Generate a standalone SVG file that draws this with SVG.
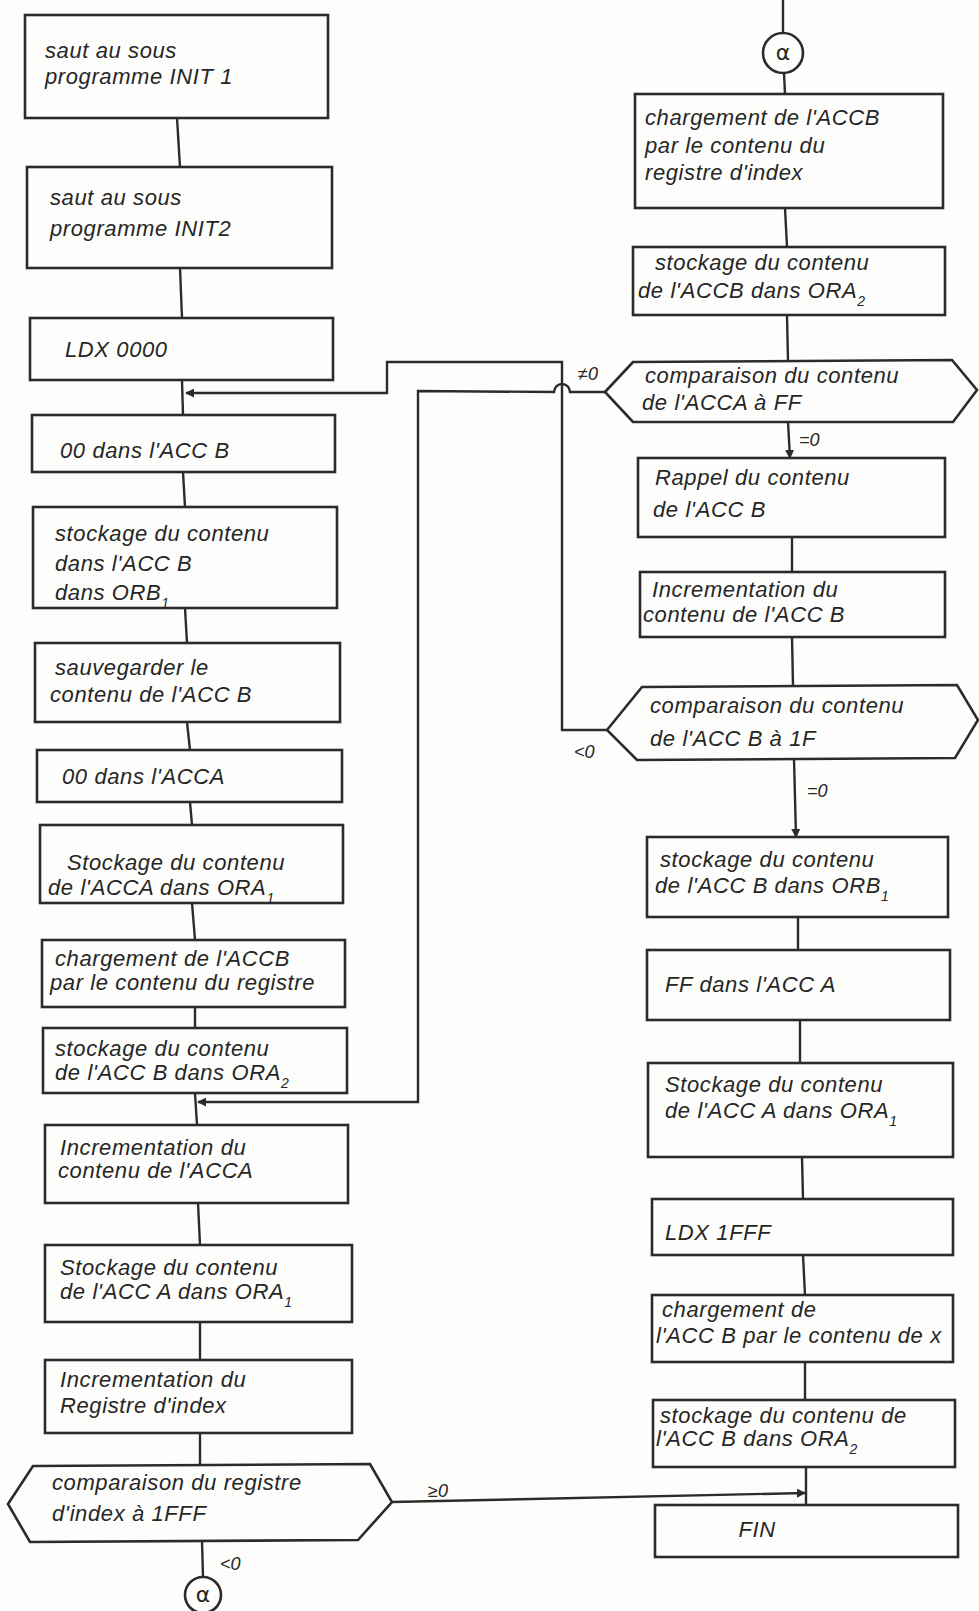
<svg xmlns="http://www.w3.org/2000/svg" width="979" height="1611" viewBox="0 0 979 1611">
<style>
.b{fill:none;stroke:#2b2b2b;stroke-width:2.6}
.c{fill:none;stroke:#2b2b2b;stroke-width:2.4}
.t{font-family:"Liberation Sans",Arial,sans-serif;font-style:italic;font-size:22px;fill:#262626;letter-spacing:0.6px}
.l{font-family:"Liberation Sans",Arial,sans-serif;font-style:italic;font-size:18px;fill:#262626}
.s{font-size:14px}
.g{font-family:"DejaVu Sans",sans-serif;font-size:22px;fill:#262626}
</style>
<defs>
<marker id="ar" viewBox="0 0 10 10" refX="9" refY="5" markerWidth="9" markerHeight="9" markerUnits="userSpaceOnUse" orient="auto">
<path d="M0,0 L10,5 L0,10 z" fill="#2b2b2b"/>
</marker>
</defs>
<rect x="0" y="0" width="979" height="1611" fill="#fdfdfb"/>

<g id="connectors">
<line class="c" x1="177" y1="118" x2="180" y2="167"/>
<line class="c" x1="180" y1="268" x2="182" y2="318"/>
<line class="c" x1="182" y1="380" x2="183" y2="415"/>
<line class="c" x1="183" y1="472" x2="185" y2="507"/>
<line class="c" x1="185" y1="608" x2="187" y2="643"/>
<line class="c" x1="187" y1="722" x2="190" y2="750"/>
<line class="c" x1="190" y1="802" x2="192" y2="825"/>
<line class="c" x1="192" y1="903" x2="195" y2="940"/>
<line class="c" x1="195" y1="1007" x2="195" y2="1028"/>
<line class="c" x1="195" y1="1093" x2="197" y2="1125"/>
<line class="c" x1="198" y1="1203" x2="200" y2="1245"/>
<line class="c" x1="200" y1="1322" x2="200" y2="1360"/>
<line class="c" x1="200" y1="1433" x2="200" y2="1465"/>
<line class="c" x1="202" y1="1541" x2="203" y2="1577"/>
<polyline class="c" points="607,730 562,730 562,362 387,362 387,393 186,393" marker-end="url(#ar)"/>
<path class="c" d="M605,392 L570,392 A8,8 0 0 0 554,392 L418,391 L418,1102 L198,1102" marker-end="url(#ar)"/>
<line class="c" x1="783" y1="0" x2="783" y2="33"/>
<line class="c" x1="784" y1="73" x2="785" y2="94"/>
<line class="c" x1="785" y1="208" x2="787" y2="247"/>
<line class="c" x1="787" y1="315" x2="788" y2="361"/>
<line class="c" x1="788" y1="422" x2="790" y2="458" marker-end="url(#ar)"/>
<line class="c" x1="792" y1="537" x2="792" y2="572"/>
<line class="c" x1="792" y1="637" x2="793" y2="686"/>
<line class="c" x1="794" y1="759" x2="796" y2="837" marker-end="url(#ar)"/>
<line class="c" x1="798" y1="917" x2="798" y2="950"/>
<line class="c" x1="800" y1="1020" x2="800" y2="1063"/>
<line class="c" x1="802" y1="1157" x2="803" y2="1199"/>
<line class="c" x1="803" y1="1255" x2="805" y2="1295"/>
<line class="c" x1="805" y1="1362" x2="805" y2="1400"/>
<line class="c" x1="806" y1="1467" x2="806" y2="1505"/>
<line class="c" x1="392" y1="1502" x2="805" y2="1493" marker-end="url(#ar)"/>
<text class="l" x="578" y="380">≠0</text>
<text class="l" x="799" y="446">=0</text>
<text class="l" x="574" y="758">&lt;0</text>
<text class="l" x="807" y="797">=0</text>
<text class="l" x="428" y="1497">≥0</text>
<text class="l" x="220" y="1570">&lt;0</text>
</g>

<g id="n1"><rect class="b" x="25" y="15" width="303" height="103"/>
<text class="t" x="45" y="58">saut au sous</text><text class="t" x="45" y="84">programme INIT 1</text></g>
<g id="n2"><rect class="b" x="27" y="167" width="305" height="101"/>
<text class="t" x="50" y="205">saut au sous</text><text class="t" x="50" y="236">programme INIT2</text></g>
<g id="n3"><rect class="b" x="30" y="318" width="303" height="62"/>
<text class="t" x="65" y="357">LDX 0000</text></g>
<g id="n4"><rect class="b" x="32" y="415" width="303" height="57"/>
<text class="t" x="60" y="458">00 dans l'ACC B</text></g>
<g id="n5"><rect class="b" x="33" y="507" width="304" height="101"/>
<text class="t" x="55" y="541">stockage du contenu</text><text class="t" x="55" y="571">dans l'ACC B</text><text class="t" x="55" y="600">dans ORB<tspan class="s" baseline-shift="sub">1</tspan></text></g>
<g id="n6"><rect class="b" x="35" y="643" width="305" height="79"/>
<text class="t" x="55" y="675">sauvegarder le</text><text class="t" x="50" y="702">contenu de l'ACC B</text></g>
<g id="n7"><rect class="b" x="37" y="750" width="305" height="52"/>
<text class="t" x="62" y="784">00 dans l'ACCA</text></g>
<g id="n8"><rect class="b" x="40" y="825" width="303" height="78"/>
<text class="t" x="67" y="870">Stockage du contenu</text><text class="t" x="48" y="895">de l'ACCA dans ORA<tspan class="s" baseline-shift="sub">1</tspan></text></g>
<g id="n9"><rect class="b" x="42" y="940" width="303" height="67"/>
<text class="t" x="55" y="966">chargement de l'ACCB</text><text class="t" x="50" y="990">par le contenu du registre</text></g>
<g id="n10"><rect class="b" x="43" y="1028" width="304" height="65"/>
<text class="t" x="55" y="1056">stockage du contenu</text><text class="t" x="55" y="1080">de l'ACC B dans ORA<tspan class="s" baseline-shift="sub">2</tspan></text></g>
<g id="n11"><rect class="b" x="45" y="1125" width="303" height="78"/>
<text class="t" x="60" y="1155">Incrementation du</text><text class="t" x="58" y="1178">contenu de l'ACCA</text></g>
<g id="n12"><rect class="b" x="45" y="1245" width="307" height="77"/>
<text class="t" x="60" y="1275">Stockage du contenu</text><text class="t" x="60" y="1299">de l'ACC A dans ORA<tspan class="s" baseline-shift="sub">1</tspan></text></g>
<g id="n13"><rect class="b" x="45" y="1360" width="307" height="73"/>
<text class="t" x="60" y="1387">Incrementation du</text><text class="t" x="60" y="1413">Registre d'index</text></g>
<g id="n14"><polygon class="b" points="8,1504 33,1466 370,1464 392,1502 358,1540 30,1542"/>
<text class="t" x="52" y="1490">comparaison du registre</text><text class="t" x="52" y="1521">d'index à 1FFF</text></g>
<g id="n15"><circle class="b" cx="203" cy="1595" r="18"/><text class="g" x="203" y="1602" text-anchor="middle">α</text></g>

<g id="r0"><circle class="b" cx="783" cy="53" r="20"/><text class="g" x="783" y="60" text-anchor="middle">α</text></g>
<g id="r1"><rect class="b" x="635" y="94" width="308" height="114"/>
<text class="t" x="645" y="125">chargement de l'ACCB</text><text class="t" x="645" y="153">par le contenu du</text><text class="t" x="645" y="180">registre d'index</text></g>
<g id="r2"><rect class="b" x="633" y="247" width="312" height="68"/>
<text class="t" x="655" y="270">stockage du contenu</text><text class="t" x="638" y="298">de l'ACCB dans ORA<tspan class="s" baseline-shift="sub">2</tspan></text></g>
<g id="r3"><polygon class="b" points="605,392 633,362 952,360 977,390 953,422 633,422"/>
<text class="t" x="645" y="383">comparaison du contenu</text><text class="t" x="642" y="410">de l'ACCA à FF</text></g>
<g id="r4"><rect class="b" x="638" y="458" width="307" height="79"/>
<text class="t" x="655" y="485">Rappel du contenu</text><text class="t" x="653" y="517">de l'ACC B</text></g>
<g id="r5"><rect class="b" x="640" y="572" width="305" height="65"/>
<text class="t" x="652" y="597">Incrementation du</text><text class="t" x="643" y="622">contenu de l'ACC B</text></g>
<g id="r6"><polygon class="b" points="607,730 642,687 957,685 978,720 955,758 637,760"/>
<text class="t" x="650" y="713">comparaison du contenu</text><text class="t" x="650" y="746">de l'ACC B à 1F</text></g>
<g id="r7"><rect class="b" x="647" y="837" width="301" height="80"/>
<text class="t" x="660" y="867">stockage du contenu</text><text class="t" x="655" y="893">de l'ACC B dans ORB<tspan class="s" baseline-shift="sub">1</tspan></text></g>
<g id="r8"><rect class="b" x="647" y="950" width="303" height="70"/>
<text class="t" x="665" y="992">FF dans l'ACC A</text></g>
<g id="r9"><rect class="b" x="648" y="1063" width="305" height="94"/>
<text class="t" x="665" y="1092">Stockage du contenu</text><text class="t" x="665" y="1118">de l'ACC A dans ORA<tspan class="s" baseline-shift="sub">1</tspan></text></g>
<g id="r10"><rect class="b" x="652" y="1199" width="301" height="56"/>
<text class="t" x="665" y="1240">LDX 1FFF</text></g>
<g id="r11"><rect class="b" x="652" y="1295" width="301" height="67"/>
<text class="t" x="662" y="1317">chargement de</text><text class="t" x="656" y="1343">l'ACC B par le contenu de x</text></g>
<g id="r12"><rect class="b" x="653" y="1400" width="302" height="67"/>
<text class="t" x="660" y="1423">stockage du contenu de</text><text class="t" x="656" y="1446">l'ACC B dans ORA<tspan class="s" baseline-shift="sub">2</tspan></text></g>
<g id="r13"><rect class="b" x="655" y="1505" width="303" height="52"/>
<text class="t" x="757" y="1537" text-anchor="middle">FIN</text></g>
</svg>
